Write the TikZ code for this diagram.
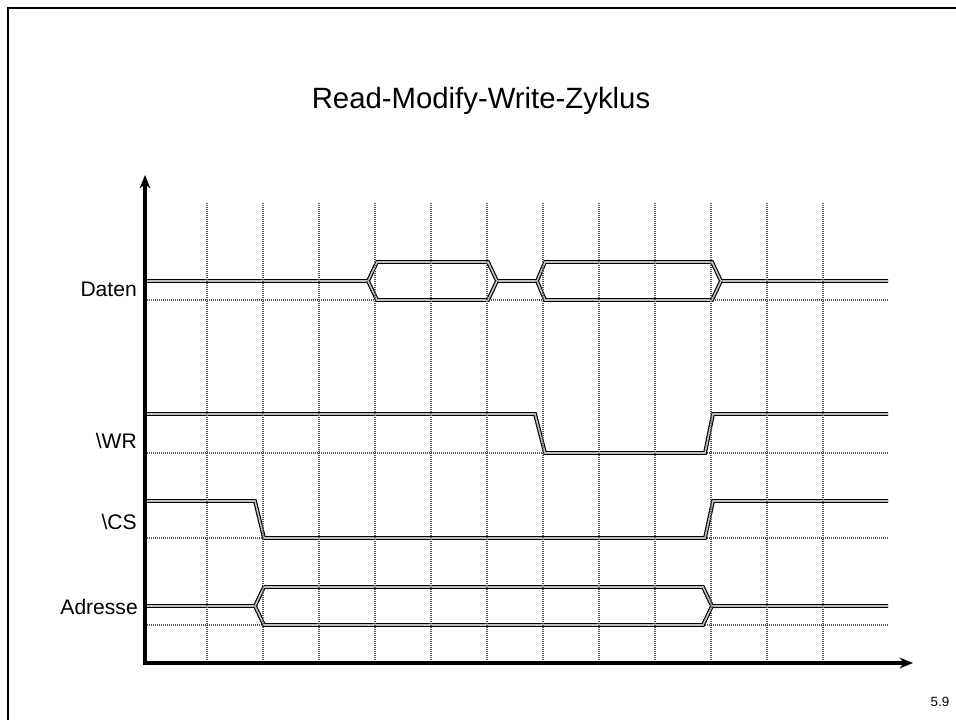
\documentclass[tikz,border=0pt]{standalone}
\usepackage{fontspec}
\setmainfont{Liberation Sans}
\usetikzlibrary{arrows.meta}
\begin{document}
\begin{tikzpicture}[x=0.75pt,y=-0.75pt,
  sig/.style={draw=black, line width=0.85pt, double=gray!50, double distance=1.2pt, line join=miter, line cap=butt},
  gridline/.style={draw=gray!70!black, line width=1.3pt, dash pattern=on 0.75pt off 0.75pt},
  baseline/.style={draw=gray!70!black, line width=1.3pt, dash pattern=on 0.75pt off 0.75pt},
  axis/.style={draw=black, line width=2.6pt, -{Stealth[length=10pt,width=8pt]}},
  lbl/.style={anchor=east, inner sep=0pt, font=\fontsize{15.8}{19}\selectfont},
  frameline/.style={draw=black, line width=1.6pt}
]
\useasboundingbox (0,0) rectangle (956,720);
% frame
\draw[frameline] (8,720) -- (8,8) -- (956,8);
% title
\node[font=\fontsize{22}{26}\selectfont] (title) at (481,101) {Read-Modify-Write-Zyklus};
% dotted baselines
\foreach \yy in {300,453,538,625} \draw[baseline] (147,\yy) -- (888,\yy);
% signals
% Daten
\draw[sig] (145,281) -- (368,281) -- (377,262) -- (488,262) -- (497,281) -- (537,281) -- (545,262) -- (712,262) -- (721,281) -- (888,281);
\draw[sig] (368,281) -- (377,300) -- (488,300) -- (497,281);
\draw[sig] (537,281) -- (545,300) -- (712,300) -- (721,281);
% WR
\draw[sig] (145,414) -- (535,414) -- (545,453) -- (705,453) -- (713,414) -- (888,414);
% CS
\draw[sig] (145,501) -- (255,501) -- (264,538) -- (705,538) -- (713,501) -- (888,501);
% Adresse
\draw[sig] (145,606) -- (255,606) -- (264,587) -- (703,587) -- (712,606) -- (888,606);
\draw[sig] (255,606) -- (264,625) -- (703,625) -- (712,606);
% grid
\foreach \k in {0,...,11} \draw[gridline] ({207+56*\k},203) -- ({207+56*\k},660);
% axes
\coordinate (origin) at (145,663);
\coordinate (ytop) at (145,175);
\coordinate (xend) at (913,663);
\draw[axis] (145,664.5) -- (ytop);
\draw[axis] (143.5,663) -- (xend);
% labels
\node[lbl] (daten) at (137,289) {Daten};
\node[lbl] (wr) at (137,441) {\textbackslash WR};
\node[lbl] (cs) at (137,522) {\textbackslash CS};
\node[lbl] (adr) at (138,607) {Adresse};
\node[font=\fontsize{10}{12}\selectfont] (page) at (940,702) {5.9};
\end{tikzpicture}
\end{document}
